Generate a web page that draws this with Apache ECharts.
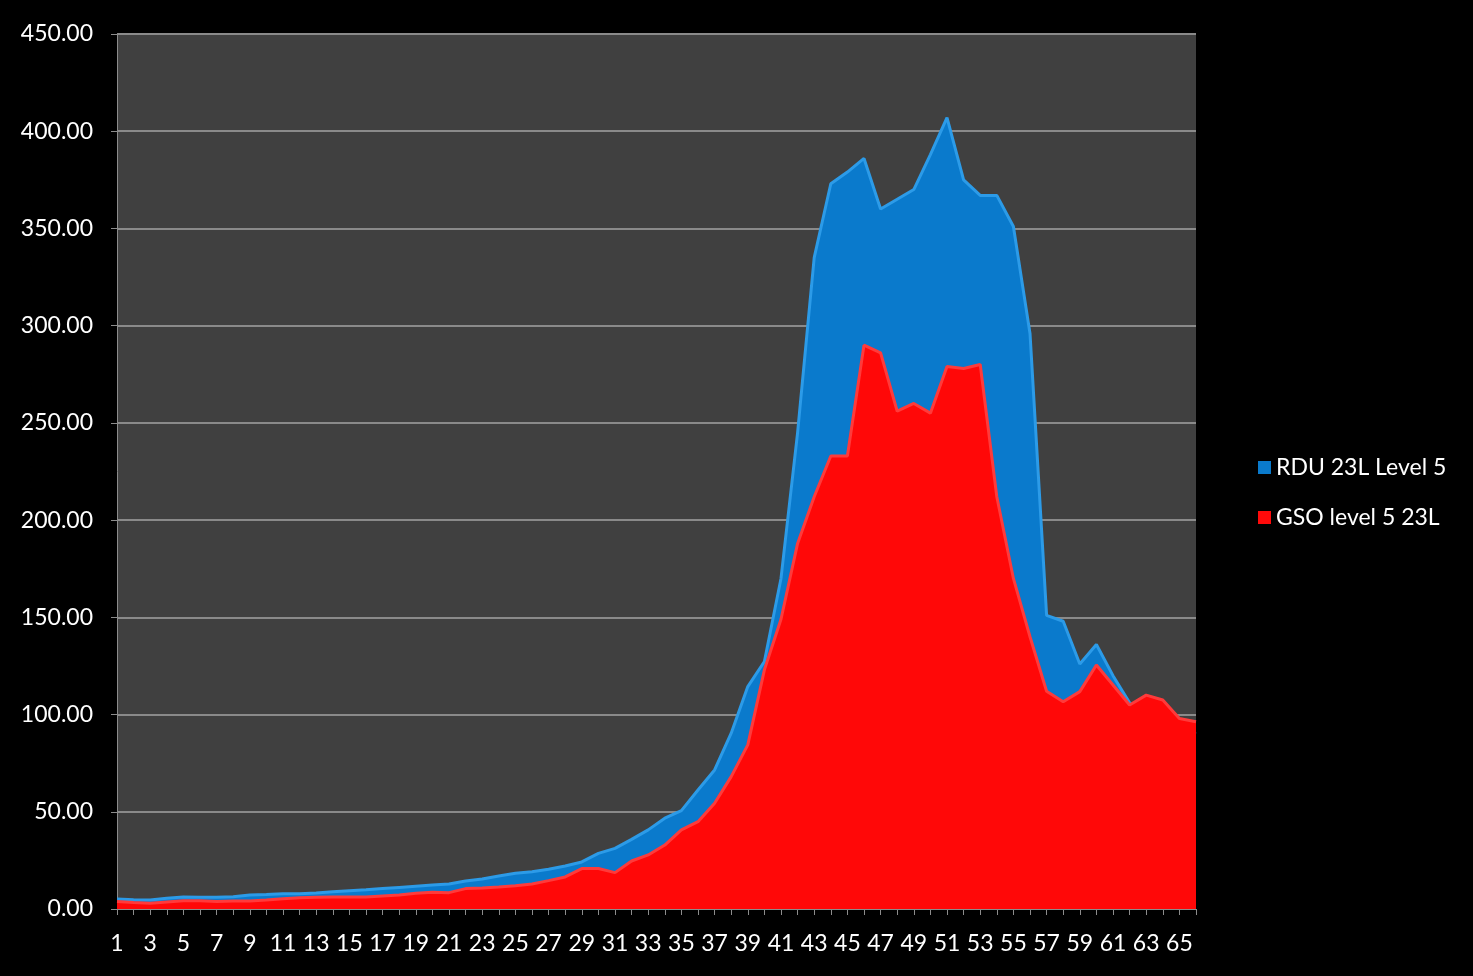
<!DOCTYPE html>
<html>
<head>
    <meta charset="UTF-8">
    <title>RDU vs GSO</title>
    <script src="https://cdn.jsdelivr.net/npm/echarts@6/dist/echarts.min.js"></script>
    <style>
        html, body { margin: 0; padding: 0; background: #000; }
        #main { width: 1473px; height: 976px; }
    </style>
</head>
<body>
    <div id="main"></div>
    <script>
        var categories = [];
        for (var i = 1; i <= 66; i++) categories.push(String(i));

        var yTicks = [0, 50, 100, 150, 200, 250, 300, 350, 400, 450];

        // RDU 23L Level 5 (blue, behind)
        var rdu = [5.1, 4.8, 4.6, 5.5, 6.2, 6.0, 6.0, 6.3, 7.2, 7.5,
                   7.9, 7.9, 8.2, 8.9, 9.4, 9.9, 10.5, 11.1, 11.7, 12.3,
                   12.9, 14.4, 15.4, 17.0, 18.4, 19.2, 20.4, 22.1, 24.2, 28.6,
                   31.2, 35.8, 40.7, 46.7, 50.6, 61.2, 71.5, 90.4, 114.4, 127.3,
                   170, 245, 335, 373, 379, 386, 360, 365, 370, 388,
                   407, 375, 367, 367, 351, 296, 151, 148, 126, 136,
                   120, 106, 100, 98, 92, 90];

        // GSO level 5 23L (red, front)
        var gso = [3.8, 3.3, 2.9, 3.6, 4.3, 4.3, 3.9, 4.1, 4.1, 4.6,
                   5.3, 5.8, 6.0, 6.2, 6.2, 6.2, 6.7, 7.2, 8.1, 8.6,
                   8.4, 10.5, 10.8, 11.3, 12.0, 12.9, 14.6, 16.5, 20.8, 20.8,
                   18.7, 24.7, 27.8, 32.9, 40.7, 44.9, 54.4, 68.1, 84.4, 123,
                   149, 188, 212, 233, 233, 290, 286, 256, 260, 255,
                   279, 278, 280, 212, 170, 140, 112, 106.6, 111.8, 125.5,
                   115.2, 104.9, 110, 107.5, 98, 96.3];

        var myChart = echarts.init(document.getElementById('main'));

        var font = 'Lato, "Open Sans", sans-serif';

        var option = {
            backgroundColor: '#000',
            animation: false,
            textStyle: { fontFamily: font },
            grid: {
                left: 117,
                right: 277,
                top: 34,
                bottom: 67,
                show: true,
                backgroundColor: '#404040',
                borderWidth: 0
            },
            legend: {
                orient: 'vertical',
                left: 1253,
                top: 451,
                itemWidth: 13,
                itemHeight: 13,
                itemGap: 27,
                icon: 'rect',
                textStyle: { color: '#fff', fontSize: 23, fontFamily: font },
                data: ['RDU 23L Level 5', 'GSO level 5 23L']
            },
            xAxis: {
                type: 'category',
                data: categories,
                boundaryGap: false,
                axisLine: { lineStyle: { color: '#8c8c8c', width: 1 } },
                axisTick: {
                    show: true,
                    interval: 0,
                    length: 6,
                    lineStyle: { color: '#8c8c8c' }
                },
                axisLabel: {
                    interval: 1,
                    color: '#fff',
                    fontSize: 23,
                    margin: 23,
                    fontFamily: font
                },
                splitLine: { show: false }
            },
            yAxis: {
                type: 'value',
                min: yTicks[0],
                max: yTicks[yTicks.length - 1],
                interval: 50,
                axisLine: { show: true, lineStyle: { color: '#8c8c8c' } },
                axisTick: { show: true, length: 6, lineStyle: { color: '#8c8c8c' } },
                axisLabel: {
                    color: '#fff',
                    fontSize: 23,
                    margin: 24,
                    fontFamily: font,
                    formatter: function (v) { return v.toFixed(2); }
                },
                splitLine: { show: true, lineStyle: { color: '#8a8a8a', width: 2 } }
            },
            series: [
                {
                    name: 'RDU 23L Level 5',
                    type: 'line',
                    z: 2,
                    data: rdu,
                    symbol: 'none',
                    itemStyle: { color: '#0a7acc' },
                    lineStyle: { color: '#2c9be8', width: 3 },
                    areaStyle: { color: '#0a7acc', opacity: 1 }
                },
                {
                    name: 'GSO level 5 23L',
                    type: 'line',
                    z: 3,
                    data: gso,
                    symbol: 'none',
                    itemStyle: { color: '#ff0a0a' },
                    lineStyle: { color: '#ff3a3a', width: 3 },
                    areaStyle: { color: '#ff0808', opacity: 1 }
                }
            ]
        };

        myChart.setOption(option);
    </script>
</body>
</html>
